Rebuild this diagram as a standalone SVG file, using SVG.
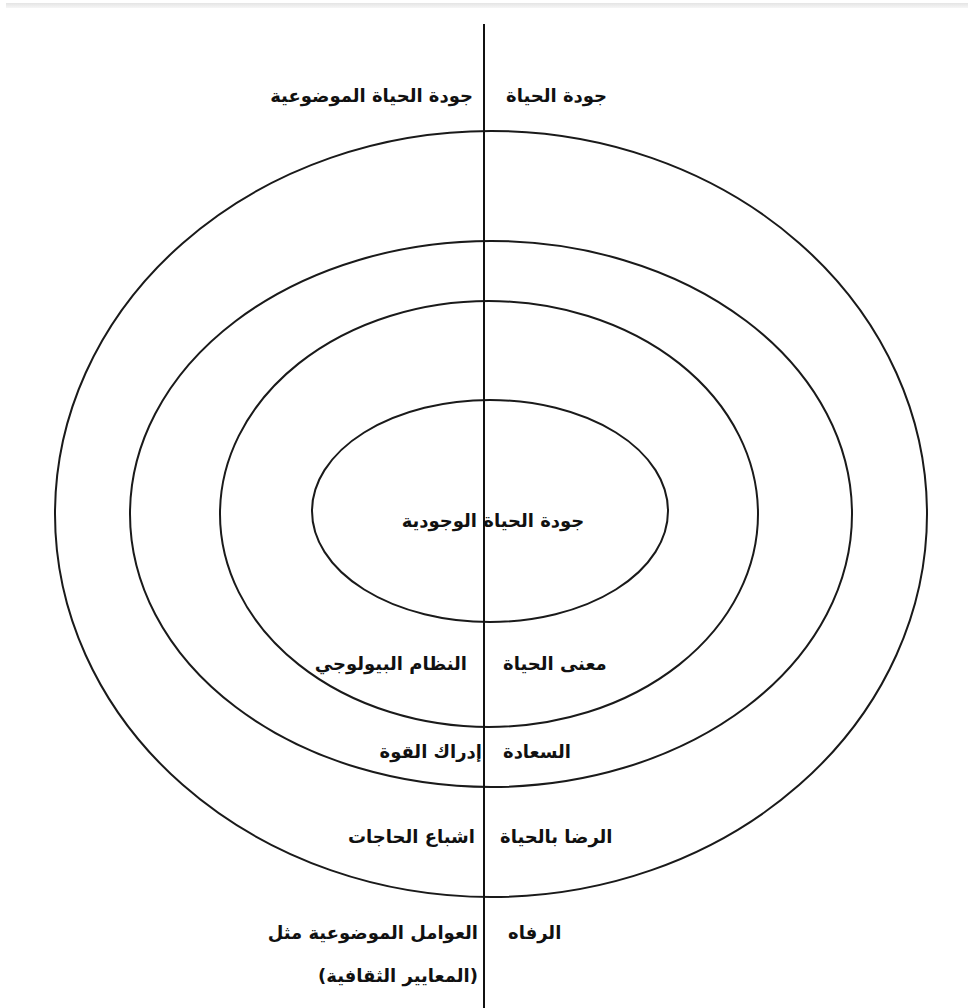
<svg xmlns="http://www.w3.org/2000/svg" width="968" height="1008" viewBox="0 0 968 1008">
  <defs>
    <linearGradient id="topband" x1="0" y1="0" x2="0" y2="1">
      <stop offset="0" stop-color="#e4e4e4"/>
      <stop offset="1" stop-color="#f6f6f6"/>
    </linearGradient>
    <style>
      .ring { fill: none; stroke: #1a1a1a; stroke-width: 2; }
      .axis { stroke: #111; stroke-width: 2; }
      .lbl { font-family: "DejaVu Sans", "Noto Sans", sans-serif; font-weight: bold; font-size: 18px; fill: #111; }
      .r { text-anchor: start; }
      .l { text-anchor: end; }
      .c { text-anchor: middle; }
    </style>
  </defs>

  <rect width="968" height="1008" fill="#ffffff"/>
  <rect x="6" y="3" width="962" height="5" fill="url(#topband)"/>

  <!-- nested rings -->
  <g id="ring-outer"><ellipse class="ring" cx="491" cy="514" rx="436" ry="383"/></g>
  <g id="ring-2"><ellipse class="ring" cx="491" cy="514" rx="361" ry="273"/></g>
  <g id="ring-3"><ellipse class="ring" cx="489" cy="514" rx="269" ry="213"/></g>
  <g id="ring-inner"><ellipse class="ring" cx="490" cy="511" rx="178" ry="111"/></g>

  <!-- dividing axis -->
  <g id="connectors">
    <line class="axis" x1="484" y1="24" x2="484" y2="1008"/>
  </g>

  <!-- labels -->
  <g id="label-top">
    <text class="lbl r" x="506" y="102">جودة الحياة</text>
    <text class="lbl l" x="473" y="102">جودة الحياة الموضوعية</text>
  </g>
  <g id="label-core">
    <text class="lbl c" x="493" y="527">جودة الحياة الوجودية</text>
  </g>
  <g id="label-meaning">
    <text class="lbl r" x="503" y="670">معنى الحياة</text>
    <text class="lbl l" x="467" y="670">النظام البيولوجي</text>
  </g>
  <g id="label-happiness">
    <text class="lbl r" x="503" y="758">السعادة</text>
    <text class="lbl l" x="482" y="758">إدراك القوة</text>
  </g>
  <g id="label-satisfaction">
    <text class="lbl r" x="500" y="843">الرضا بالحياة</text>
    <text class="lbl l" x="475" y="843">اشباع الحاجات</text>
  </g>
  <g id="label-wellbeing">
    <text class="lbl r" x="508" y="939">الرفاه</text>
    <text class="lbl l" x="478" y="939">العوامل الموضوعية مثل</text>
    <text class="lbl l" x="478" y="982">(المعايير الثقافية)</text>
  </g>
</svg>
